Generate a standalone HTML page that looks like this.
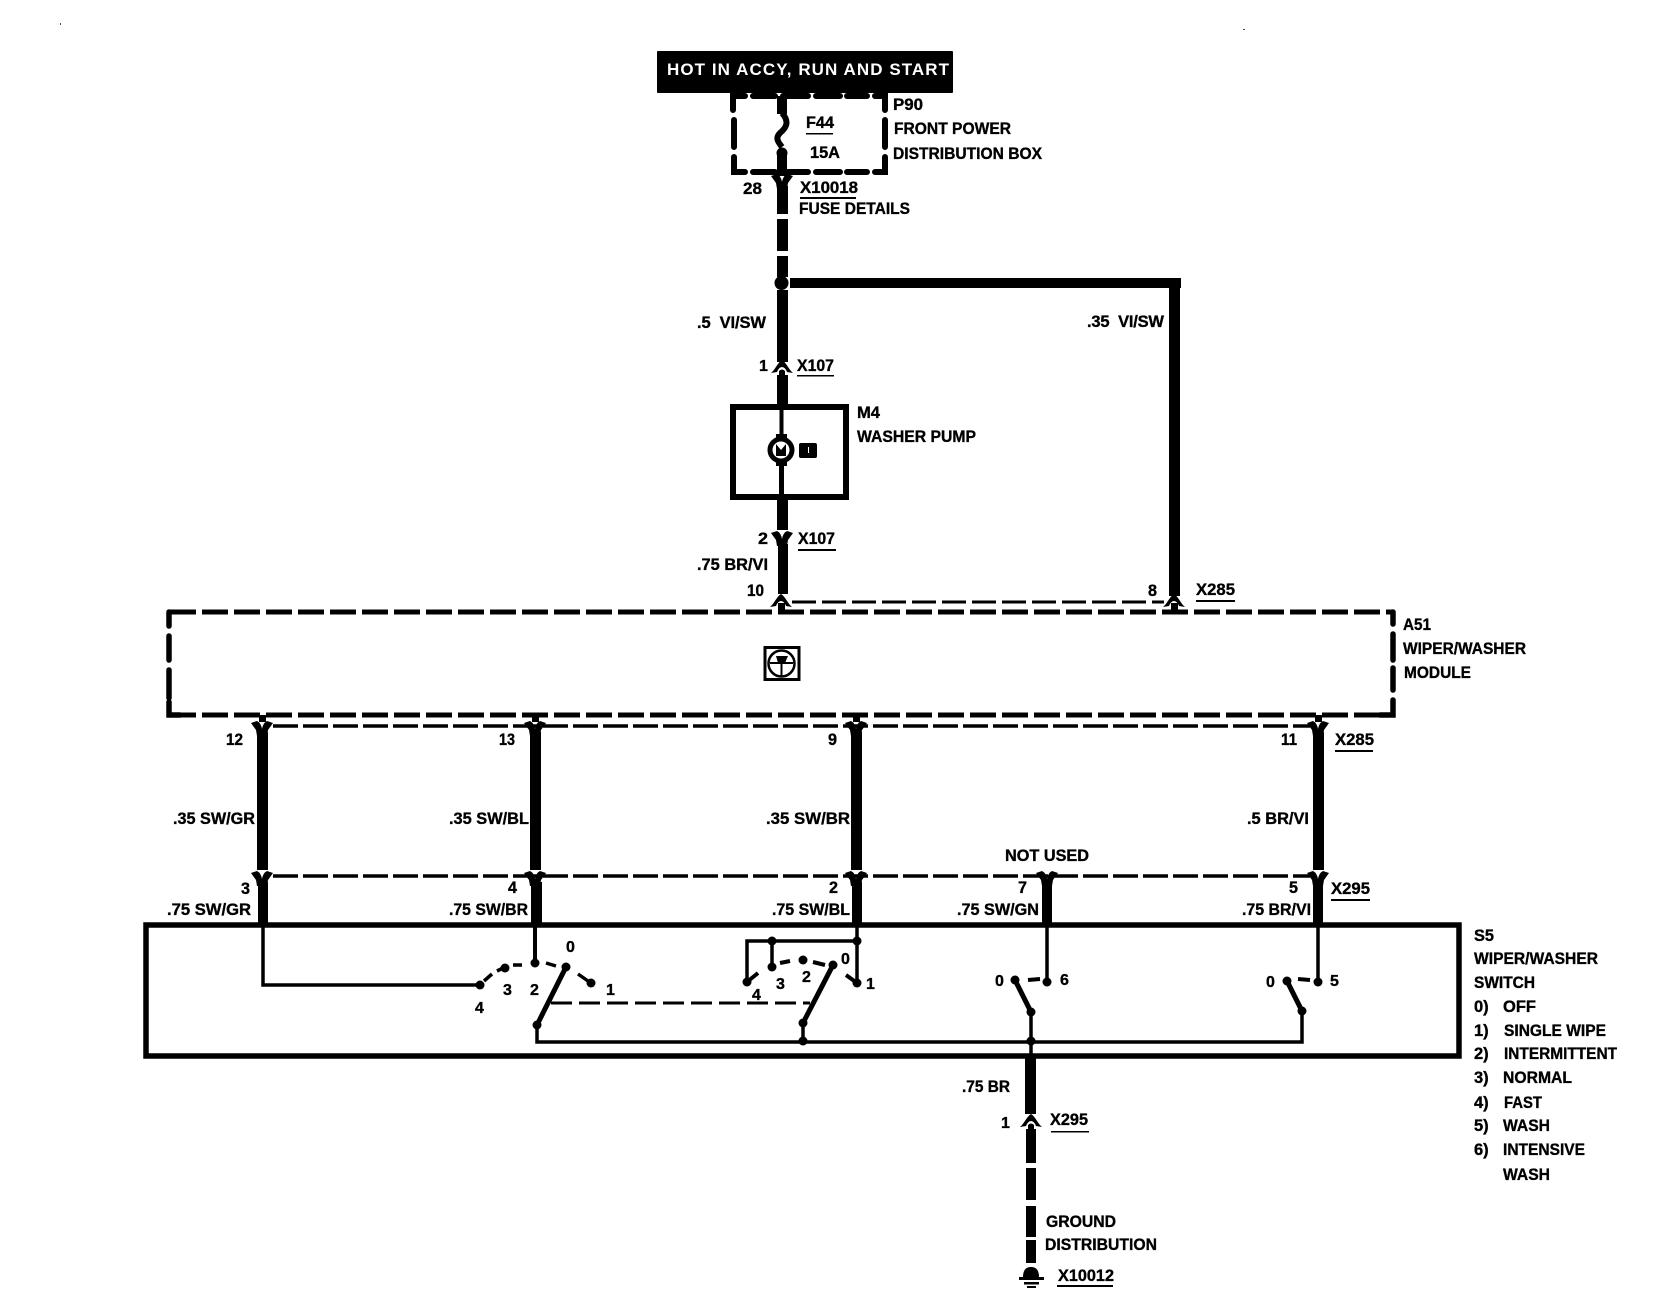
<!DOCTYPE html>
<html><head><meta charset="utf-8"><style>
html,body{margin:0;padding:0;background:#fff}
svg{display:block}
text{font-family:"Liberation Sans",sans-serif;font-weight:bold;font-size:16.5px;fill:#000;stroke:#000;stroke-width:.35px}
.n{font-size:16px}
.sp{stroke:#000;fill:none}
</style></head><body>
<svg width="1664" height="1312" viewBox="0 0 1664 1312" xmlns="http://www.w3.org/2000/svg">
<defs>
<g id="dn"><path d="M-11,-4 L-5,-6 Q-1,-4 0,2 Q1,-4 5,-6 L11,-4 L6,3 L5,9 L-5,9 L-6,3 Z" fill="#000"/></g>
<g id="up"><path d="M-11,6 C-7,3 -4,-5 0,-7 C4,-5 7,3 11,6 L5,5 Q3,0 0,0 Q-3,0 -5,5 Z" fill="#000"/><path d="M-3,8V4Q0,1 3,4V8Z" fill="#000"/></g>
<circle id="d" r="4.5" fill="#000"/>
</defs>
<rect width="1664" height="1312" fill="#fff"/>
<rect x="60" y="23" width="1" height="2" fill="#444"/><rect x="1243" y="29" width="2" height="1" fill="#444"/>

<!-- header -->
<rect x="657" y="51" width="296" height="42" rx="1" fill="#000"/>
<text x="667" y="75" textLength="282" lengthAdjust="spacing" style="fill:#fff;stroke:none;font-size:17px">HOT IN ACCY, RUN AND START</text>

<!-- P90 -->
<g class="sp" stroke-width="6" stroke-linecap="round">
<path d="M733,110V96H745M753,96H775M783,96H808M816,96H840M847,96H867M875,96H885V110" />
<path d="M734,120V147M885,120V147M734,157V172H745M753,172H775M783,172H808M816,172H840M847,172H867M875,172H885V157"/>
</g>
<rect x="777" y="96" width="10" height="18" fill="#000"/>
<path class="sp" d="M782,113C790,122 786,128 780,133C775,138 778,142 782,147" stroke-width="6"/>
<rect x="777" y="152" width="10" height="24" fill="#000"/><circle cx="782" cy="153" r="5.5"/>
<use href="#dn" x="782" y="180"/>
<g fill="#000">
<rect x="777" y="186" width="11" height="28"/>
<rect x="777" y="219" width="11" height="32"/>
<rect x="777" y="256" width="11" height="21"/>
<circle cx="781.5" cy="283" r="7"/>
<rect x="777" y="290" width="11" height="72"/>
<rect x="790" y="278" width="391" height="10"/>
<rect x="1169" y="278" width="11" height="318"/>
<rect x="777" y="375" width="11" height="29"/>
</g>
<use href="#up" x="782" y="367"/>

<!-- M4 -->
<rect x="733" y="407" width="113" height="90" fill="none" stroke="#000" stroke-width="6"/>
<rect x="779.5" y="407" width="4" height="30" fill="#000"/>
<rect x="779" y="462" width="5" height="35" fill="#000"/>
<circle cx="781" cy="450" r="11" fill="#fff" stroke="#000" stroke-width="5"/>
<rect x="776" y="434" width="11" height="6" fill="#000"/><rect x="776" y="460" width="11" height="6" fill="#000"/>
<path d="M776,456V444L781,450L786,444V456" fill="#000"/>
<rect x="799" y="443" width="18" height="15" rx="2" fill="#000"/><rect x="808" y="447" width="1" height="6" fill="#fff"/>

<rect x="777" y="497" width="11" height="33" fill="#000"/>
<use href="#dn" x="782" y="537"/>
<rect x="778" y="544" width="10" height="50" fill="#000"/>
<use href="#up" x="781" y="601" />
<use href="#up" x="1174" y="601" />
<path class="sp" stroke-width="3" stroke-dasharray="24,6" d="M792,602H1164"/>

<!-- A51 -->
<path class="sp" stroke-width="5" stroke-dasharray="26,6" d="M170,612H1392"/>
<path class="sp" stroke-width="5" stroke-dasharray="26,6" d="M170,715H1392"/>
<path class="sp" stroke-width="5.5" stroke-linecap="round" d="M169,612V626M169,636V660M169,670V698M169,702V715H180M1393,612V624M1393,634V660M1393,668V690M1393,700V715H1380"/>
<rect x="778" y="603" width="7" height="9" fill="#000"/><rect x="1171" y="603" width="7" height="9" fill="#000"/>

<!-- steering icon -->
<rect x="765" y="647.5" width="34" height="32" fill="#fff" stroke="#000" stroke-width="3"/>
<circle cx="781.5" cy="663.5" r="13" fill="none" stroke="#000" stroke-width="2.5"/>
<path d="M776,656H788L785,663H778Z" fill="#000"/><path d="M770,663H793M781.5,663V677" stroke="#000" stroke-width="2"/>

<!-- harness -->
<path class="sp" stroke-width="3.5" stroke-dasharray="25,5" d="M273,726H1310"/>
<path class="sp" stroke-width="3.5" stroke-dasharray="25,5" d="M273,876H1310"/>
<g fill="#000">
<rect x="259" y="715" width="7" height="7"/><rect x="532" y="715" width="7" height="7"/><rect x="853" y="715" width="7" height="7"/><rect x="1315" y="715" width="7" height="7"/>
<rect x="257" y="732" width="11" height="138"/><rect x="530" y="732" width="11" height="138"/><rect x="851" y="732" width="11" height="138"/><rect x="1313" y="732" width="11" height="138"/>
<rect x="258" y="882" width="10" height="42"/><rect x="531" y="882" width="11" height="42"/><rect x="852" y="882" width="10" height="42"/><rect x="1042" y="882" width="10" height="42"/><rect x="1313" y="882" width="10" height="42"/>
</g>
<use href="#dn" x="262" y="727"/><use href="#dn" x="535" y="727"/><use href="#dn" x="856" y="727"/><use href="#dn" x="1318" y="727"/>
<use href="#dn" x="262" y="877"/><use href="#dn" x="535" y="877"/><use href="#dn" x="856" y="877"/><use href="#dn" x="1047" y="877"/><use href="#dn" x="1318" y="877"/>

<!-- S5 box -->
<rect x="146" y="925" width="1313" height="131" fill="none" stroke="#000" stroke-width="5.5"/>

<!-- switch 1 -->
<g class="sp" stroke-width="3.5">
<path d="M263,926V985H480"/><path d="M535,926V963" stroke-width="4"/>
<path d="M484,981L492,974M497,971L503,968M513,965H522M546,963L556,966M578,974L588,981"/>
<path d="M566,967L537,1025V1042H1302V1011" stroke-width="3.5"/>
<path d="M566,967L537,1025" stroke-width="5"/>
<path d="M551,1003H810" stroke-width="3" stroke-dasharray="21,7"/>
<!-- switch 2 -->
<path d="M857,926V983"/><path d="M857,941H747V982M772,941V967"/>
<path d="M747,982L758,973M780,963L790,961M813,962L825,965M846,975L857,983" stroke-width="4"/>
<path d="M833,965L803,1023" stroke-width="5"/><path d="M803,1023V1041"/>
<!-- switch 3 -->
<path d="M1047,926V982"/><path d="M1028,980L1040,979" stroke-width="4"/>
<path d="M1015,980L1031,1012" stroke-width="5"/><path d="M1031,1012V1056"/>
<!-- switch 4 -->
<path d="M1318,926V982"/><path d="M1298,979L1310,980" stroke-width="4"/>
<path d="M1287,981L1302,1011" stroke-width="5"/>
</g>
<use href="#d" x="480" y="985"/><use href="#d" x="505" y="968"/><use href="#d" x="535" y="963"/><use href="#d" x="566" y="967"/><use href="#d" x="591" y="983"/><use href="#d" x="537" y="1025"/>
<use href="#d" x="747" y="982"/><use href="#d" x="772" y="967"/><use href="#d" x="803" y="960"/><use href="#d" x="833" y="965"/><use href="#d" x="857" y="983"/><use href="#d" x="803" y="1023"/><use href="#d" x="803" y="1041"/><use href="#d" x="772" y="941"/><use href="#d" x="857" y="941"/>
<use href="#d" x="1047" y="982"/><use href="#d" x="1015" y="980"/><use href="#d" x="1031" y="1012"/><use href="#d" x="1031" y="1041"/>
<use href="#d" x="1318" y="982"/><use href="#d" x="1287" y="981"/><use href="#d" x="1302" y="1011"/>

<!-- ground -->
<g fill="#000">
<rect x="1025" y="1056" width="11" height="58"/>
<rect x="1026" y="1129" width="10" height="34"/>
<rect x="1026" y="1168" width="10" height="32"/>
<rect x="1026" y="1206" width="10" height="31"/>
<rect x="1026" y="1240" width="10" height="23"/>
<path d="M1023,1277C1023,1270 1026,1267 1031,1267C1036,1267 1039,1270 1039,1277Z"/>
<rect x="1019" y="1277" width="25" height="3"/><rect x="1024" y="1282" width="15" height="2.5"/><rect x="1027" y="1286" width="9" height="2"/>
</g>
<use href="#up" x="1031" y="1121"/>

<!-- underlines -->
<g fill="#000">
<rect x="806" y="133" width="27" height="1.5"/>
<rect x="800" y="197" width="56" height="2"/>
<rect x="797" y="375" width="37" height="1.5"/>
<rect x="798" y="549" width="38" height="2"/>
<rect x="1196" y="600" width="39" height="2"/>
<rect x="1335" y="750" width="38" height="2"/>
<rect x="1331" y="899" width="39" height="2"/>
<rect x="1051" y="1131" width="38" height="1.5"/>
<rect x="1057" y="1285" width="56" height="2"/>
</g>

<!-- labels -->
<text x="893" y="110" textLength="30" lengthAdjust="spacingAndGlyphs">P90</text>
<text x="894" y="134" textLength="117" lengthAdjust="spacingAndGlyphs">FRONT POWER</text>
<text x="893" y="159" textLength="149" lengthAdjust="spacingAndGlyphs">DISTRIBUTION BOX</text>
<text x="806" y="128" textLength="28" lengthAdjust="spacingAndGlyphs">F44</text>
<text x="810" y="158" textLength="30" lengthAdjust="spacingAndGlyphs">15A</text>
<text x="743" y="194" textLength="19" lengthAdjust="spacingAndGlyphs">28</text>
<text x="800" y="193" textLength="58" lengthAdjust="spacingAndGlyphs">X10018</text>
<text x="799" y="214" textLength="111" lengthAdjust="spacingAndGlyphs">FUSE DETAILS</text>
<text x="697" y="328" textLength="69" lengthAdjust="spacing" xml:space="preserve">.5  VI/SW</text>
<text x="1087" y="327" textLength="77" lengthAdjust="spacing" xml:space="preserve">.35  VI/SW</text>
<text class="n" x="759" y="371">1</text>
<text x="797" y="371" textLength="37" lengthAdjust="spacingAndGlyphs">X107</text>
<text x="857" y="418" textLength="23" lengthAdjust="spacingAndGlyphs">M4</text>
<text x="857" y="442" textLength="119" lengthAdjust="spacingAndGlyphs">WASHER PUMP</text>
<text x="758" y="544" textLength="10" lengthAdjust="spacingAndGlyphs">2</text>
<text x="798" y="544" textLength="37" lengthAdjust="spacingAndGlyphs">X107</text>
<text x="697" y="570" textLength="71" lengthAdjust="spacingAndGlyphs">.75 BR/VI</text>
<text x="747" y="596" textLength="17" lengthAdjust="spacingAndGlyphs">10</text>
<text x="1148" y="596" textLength="9" lengthAdjust="spacingAndGlyphs">8</text>
<text x="1196" y="595" textLength="39" lengthAdjust="spacingAndGlyphs">X285</text>
<text x="1403" y="630" textLength="28" lengthAdjust="spacingAndGlyphs">A51</text>
<text x="1403" y="654" textLength="123" lengthAdjust="spacingAndGlyphs">WIPER/WASHER</text>
<text x="1404" y="678" textLength="67" lengthAdjust="spacingAndGlyphs">MODULE</text>
<text x="226" y="745" textLength="17" lengthAdjust="spacingAndGlyphs">12</text>
<text x="499" y="745" textLength="16" lengthAdjust="spacingAndGlyphs">13</text>
<text x="828" y="745" textLength="9" lengthAdjust="spacingAndGlyphs">9</text>
<text x="1281" y="745" textLength="16" lengthAdjust="spacingAndGlyphs">11</text>
<text x="1335" y="745" textLength="39" lengthAdjust="spacingAndGlyphs">X285</text>
<text x="173" y="824" textLength="82" lengthAdjust="spacingAndGlyphs">.35 SW/GR</text>
<text x="449" y="824" textLength="80" lengthAdjust="spacingAndGlyphs">.35 SW/BL</text>
<text x="766" y="824" textLength="84" lengthAdjust="spacingAndGlyphs">.35 SW/BR</text>
<text x="1247" y="824" textLength="62" lengthAdjust="spacingAndGlyphs">.5 BR/VI</text>
<text x="1005" y="861" textLength="84" lengthAdjust="spacingAndGlyphs">NOT USED</text>
<text x="241" y="894" textLength="9" lengthAdjust="spacingAndGlyphs">3</text>
<text x="508" y="893" textLength="9" lengthAdjust="spacingAndGlyphs">4</text>
<text x="829" y="893" textLength="9" lengthAdjust="spacingAndGlyphs">2</text>
<text x="1018" y="893" textLength="9" lengthAdjust="spacingAndGlyphs">7</text>
<text x="1289" y="893" textLength="9" lengthAdjust="spacingAndGlyphs">5</text>
<text x="1331" y="894" textLength="39" lengthAdjust="spacingAndGlyphs">X295</text>
<text x="167" y="915" textLength="84" lengthAdjust="spacingAndGlyphs">.75 SW/GR</text>
<text x="449" y="915" textLength="79" lengthAdjust="spacingAndGlyphs">.75 SW/BR</text>
<text x="772" y="915" textLength="78" lengthAdjust="spacingAndGlyphs">.75 SW/BL</text>
<text x="957" y="915" textLength="82" lengthAdjust="spacingAndGlyphs">.75 SW/GN</text>
<text x="1242" y="915" textLength="69" lengthAdjust="spacingAndGlyphs">.75 BR/VI</text>
<text class="n" x="566" y="952">0</text>
<text class="n" x="503" y="995">3</text>
<text class="n" x="530" y="995">2</text>
<text class="n" x="475" y="1013">4</text>
<text class="n" x="606" y="995">1</text>
<text class="n" x="752" y="1000">4</text>
<text class="n" x="776" y="989">3</text>
<text class="n" x="802" y="982">2</text>
<text class="n" x="841" y="964">0</text>
<text class="n" x="866" y="989">1</text>
<text class="n" x="995" y="986">0</text>
<text class="n" x="1060" y="985">6</text>
<text class="n" x="1266" y="987">0</text>
<text class="n" x="1330" y="986">5</text>
<text x="1474" y="941" textLength="20" lengthAdjust="spacingAndGlyphs">S5</text>
<text x="1474" y="964" textLength="124" lengthAdjust="spacingAndGlyphs">WIPER/WASHER</text>
<text x="1474" y="988" textLength="61" lengthAdjust="spacingAndGlyphs">SWITCH</text>
<text x="1474" y="1012">0)</text><text x="1503" y="1012" textLength="33" lengthAdjust="spacingAndGlyphs">OFF</text>
<text x="1474" y="1036">1)</text><text x="1504" y="1036" textLength="102" lengthAdjust="spacingAndGlyphs">SINGLE WIPE</text>
<text x="1474" y="1059">2)</text><text x="1504" y="1059" textLength="113" lengthAdjust="spacingAndGlyphs">INTERMITTENT</text>
<text x="1474" y="1083">3)</text><text x="1503" y="1083" textLength="69" lengthAdjust="spacingAndGlyphs">NORMAL</text>
<text x="1474" y="1108">4)</text><text x="1504" y="1108" textLength="38" lengthAdjust="spacingAndGlyphs">FAST</text>
<text x="1474" y="1131">5)</text><text x="1503" y="1131" textLength="47" lengthAdjust="spacingAndGlyphs">WASH</text>
<text x="1474" y="1155">6)</text><text x="1503" y="1155" textLength="82" lengthAdjust="spacingAndGlyphs">INTENSIVE</text>
<text x="1503" y="1180" textLength="47" lengthAdjust="spacingAndGlyphs">WASH</text>
<text x="962" y="1092" textLength="48" lengthAdjust="spacingAndGlyphs">.75 BR</text>
<text class="n" x="1001" y="1128">1</text>
<text x="1050" y="1125" textLength="38" lengthAdjust="spacingAndGlyphs">X295</text>
<text x="1046" y="1227" textLength="70" lengthAdjust="spacingAndGlyphs">GROUND</text>
<text x="1045" y="1250" textLength="112" lengthAdjust="spacingAndGlyphs">DISTRIBUTION</text>
<text x="1058" y="1281" textLength="56" lengthAdjust="spacingAndGlyphs">X10012</text>
</svg>
</body></html>
